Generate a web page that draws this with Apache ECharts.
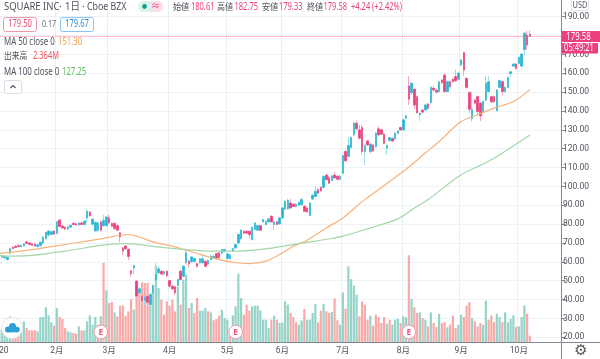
<!DOCTYPE html>
<html><head><meta charset="utf-8">
<style>html,body{margin:0;padding:0;background:#fff}#c{width:600px;height:359px}</style>
<script src="https://cdn.jsdelivr.net/npm/echarts@6/dist/echarts.min.js"></script>
</head><body><div id="c"></div>
<script>
// open, high, low, close per trading day
const ohlc = [
[62.5,63.6,62,63.2],[62.6,63.4,62,63.2],[62.2,63,61.4,62.8],[61.2,62.8,60.8,62.4],[64.6,67.3,64,67],
[67.6,68.4,66.5,67.1],[68.2,68.8,67.4,67.6],[68.6,69.2,67.8,68.1],[68,69.2,67.6,68.7],[68.5,69.8,68,69.5],
[70.6,71,69.6,69.8],[70,70.4,68.8,69.2],[69.6,70,68.4,68.8],[69.3,69.8,68,68.5],[68.2,69.5,67.8,69],
[68.6,70.8,68,70.4],[70,73.6,69.2,73],[72.4,76,71.5,75.6],[74.2,77,73.5,76.3],[74.6,76.8,74,76],
[76.3,76.8,74.2,74.8],[75,81.6,74.7,81.2],[82.2,82.8,78.4,78.8],[79,79.6,77.4,78],[78.4,78.8,77,77.4],
[77.4,79.4,77,78.4],[78.4,79.6,78,79.4],[80.4,81,79.4,79.8],[80.2,80.6,79.2,79.6],[79.6,81,79.2,80.6],
[80.6,81.4,79.4,79.8],[79.8,82,79.2,81.6],[83.3,87.7,80.6,86.8],[86.4,87,84,84.4],[80,83,79,82.6],
[76.4,81.4,76,81],[76.8,81.2,75.8,80.6],[81,82,76,76.8],[79.2,85,78.6,82],[79.2,84.2,78.8,83.8],
[83.3,85,80.2,80.7],[80.3,80.8,78.4,78.9],[80.4,81,77,77.6],[79.2,79.8,76.4,76.8],[75.4,75.8,70.4,73.2],
[67.4,67.9,63.6,65.7],[68.4,68.8,66,67],[66.7,67,60.9,62.9],[55.2,55.8,52,53.8],[56.8,58.6,53.3,58],
[49.8,50.4,41,41.9],[43.6,46.6,42.5,45.7],[41.8,42.5,33,39.2],[39.5,42,37,41.4],[41.8,43,37.5,38.6],
[37.4,43.5,36,42.7],[43.6,48,42.8,47.4],[50.3,59.5,49.5,53.5],[54.2,58,53.5,56.3],[55,55.4,52.8,53.6],
[53.8,55.4,52.6,54.8],[55,55.4,51.8,52.8],[50.1,50.6,46.4,47.1],[47.1,47.6,45.2,45.7],[46.8,47.2,42.5,43.6],
[47.5,51,47,50.6],[55,56,50.2,50.6],[52.4,58,51.8,57.7],[59.5,67,58.8,64.8],[60.3,61,56.8,58.9],
[60,62.8,59.4,62.6],[60.3,62.2,59.8,61.8],[59,59.6,56.8,57.7],[59.5,62,59,61.6],[59.5,64,59,61.6],
[60.3,60.8,57,57.7],[58.8,61.4,58.2,60.6],[61.2,64,60.8,63],[62,63.8,61.4,62.8],[64.4,64.8,61.6,62],
[64.8,65.2,61.2,62.2],[64.6,66.8,64,66.5],[65.4,67,65,66.5],[61.8,64.6,61.2,64.2],[61.6,64.6,61.2,63.6],
[65.6,67.4,65.2,67],[67.4,69.8,66.8,69.2],[70,75,69.6,74.5],[72.3,77.2,71.8,76.8],[76.2,76.6,74.8,75.3],
[76.2,76.8,75,75.2],[76.2,76.6,72.4,74.5],[71.8,78.6,71.4,78.3],[77.1,81,76.6,80.6],[76.8,79.6,76.4,79.2],
[79.2,79.6,76.4,76.8],[81.2,82.8,80.8,82.4],[79.8,81.8,79.2,81.5],[81.2,83,80.8,82.8],[84.2,84.6,80.8,81.2],
[79.8,81.6,76.8,81.2],[81.2,81.6,79.4,79.8],[80.1,83.6,79.6,83.3],[83.3,89,82.6,88.6],[88,92.5,87.4,92.1],
[88,93.4,87.5,92.6],[91.2,93.4,88.2,88.6],[90.6,91.2,89,89.4],[89.4,91,88.8,90.6],[90,92,89.6,91.6],
[90.3,94,89.8,93],[89.5,90,86.4,86.8],[88.6,89.2,86,86.4],[84.7,91.6,84,91.2],[93.3,95.8,92.8,95.3],
[94.7,100,94.2,97.4],[98.3,99,96,96.5],[99.5,100,97.2,97.7],[99.5,105.8,99,105.3],[106,106.6,103,103.6],
[104.6,105.6,101.2,101.7],[103.2,106,102.8,105.6],[106,107.8,104,104.5],[105.4,106,103.2,103.8],[103.8,105.8,103.2,105.4],
[107,116.8,106.6,116.4],[118.5,119.2,113,113.6],[115.9,126,115.4,121.7],[120.6,126.4,120,125.9],[127.3,134,126.8,133.5],
[133.5,134.8,130,130.5],[130,132.6,125,125.6],[131.2,132.8,116.8,118.5],[118.5,122.2,111.4,121.7],[124.1,124.6,121.4,122],
[118.5,123,117.4,122.4],[122,122.6,118.2,118.9],[121.1,128.6,120.6,128.2],[130.5,132,127,127.3],[130,130.8,127.2,127.7],
[127.7,128.2,122.4,122.9],[120.3,122.2,116.8,121.7],[124.4,126,123.8,125.9],[125.4,126,123.6,124.1],[125.2,128.6,124.8,128.2],
[128.2,129.6,127.8,129.4],[131.2,131.8,129.4,130],[130,135.8,129.6,135.3],[136.1,137.8,135.6,137.4],[153.3,158.5,143.2,146.2],
[149.7,155.2,148.5,154.7],[151.5,152,141,143.2],[147.6,148.2,138.6,139.1],[137.9,139.4,134.8,138.8],[140.4,141,138.4,139.4],
[140.5,143.8,140,143.2],[143.7,144.2,140.8,141.4],[144.4,153,143.8,152.5],[152,153.4,150.4,151.1],[151,151.6,149.2,150],
[150.3,156,149.6,155.5],[156.4,157,154.4,155],[159,160,149.6,150.3],[150.3,156.2,149.8,155.5],[155.5,156.2,152.2,152.9],
[156.8,157.4,155,155.5],[158.2,161.8,155.4,156],[156.8,160.6,156.2,160],[164.4,167.6,163.6,167],[170.9,171.4,158.5,161.7],
[157.3,157.8,151.8,152.5],[149.7,150.4,138.8,140.9],[136.1,150.3,134.4,140.9],[145.8,146.4,143.4,144.1],[147.6,148.2,137.6,139.7],
[144.1,144.8,134.6,137.4],[139.7,145.6,139.2,145],[145.8,158.5,145.2,154.7],[150.3,158.5,149.6,155.5],[147.6,148.2,144.2,144.9],
[147.6,148.2,144.2,144.9],[140.2,151.6,139.6,151.1],[152.5,156.6,152,156.1],[155.5,156,148.5,150.3],[150.3,153,149.6,152.5],
[152.5,158.4,152,157.8],[159.9,161.2,158,160.8],[163.8,165.4,163.2,164.9],[164.9,165.4,161.8,162.6],[165.2,168.8,164.6,168.4],
[163.8,170.8,163.2,170.2],[172.5,181.8,169.5,181.2],[180.2,182.6,172.5,175],[180.61,182.75,179.33,179.58]
];
// volume, in chart units of about 0.124M shares
const volumes = [
37,37,32,32,77,47,42,42,47,62, 42,35,35,35,32,75,75,104,80,59,
49,102,75,69,42,32,29,27,25,47, 35,35,62,80,52,75,52,77,237,155,
117,120,89,77,109,109,79,92,129,97, 182,157,179,177,177,142,147,229,162,127,
82,122,109,127,92,165,112,187,202,102, 117,87,132,94,94,102,92,89,65,69,
79,97,72,67,32,80,107,205,132,82, 112,94,107,109,109,94,67,67,42,67,
79,67,57,59,122,112,87,75,59,52, 65,99,67,67,87,114,59,94,114,92,
87,90,131,65,52,149,100,227,189,169, 142,77,122,112,67,79,49,82,75,57,
75,55,67,52,67,69,57,77,74,260, 129,104,87,89,72,67,47,89,57,45,
84,57,60,44,52,79,42,52,82,75, 109,120,72,62,47,57,52,124,67,80,
60,85,75,60,89,59,69,80,45,47, 75,110,85,19
];
// per volume bar: u = rising-day colour, d = falling-day colour, ten days a row
const volumeDirs = [
"uuuuuddduu","dddduuuuuu","duddduuddu","duuuuududu","dduddddddu",
"ddddduuuud","ddddduduud","udduuududd","duuuduuuud","dduuuuuuud",
"uduuuudddu","uduuuuddud","dudduuduuu","uddddudddd","duduuuduud",
"uddudududd","uddudddu"+"ud","ddudddu"+"udd","duuduuuudu","uudd"
];
const categories = ohlc.map((_, i) => "d" + i).concat(Array.from({length: 11}, (_, i) => "e" + i));
const monthLabels = {0: "2020", 21: "2月", 40: "3月", 62: "4月", 83: "5月", 103: "6月", 125: "7月", 147: "8月", 168: "9月", 189: "10月"};
const earningsDays = [37, 86, 149];
// Moving averages: readings at the listed trading days, joined by the line
const ma50Days = [0,12,24,37,44,47,51,56,63,68,73,79,85,91,97,102,107,112,119,125,130,133,147,155,160,168,174,180,187,193];
const ma50 = [64.4,66.5,69.2,72.2,74.1,74.5,73.2,70.6,68.3,66.2,64,61.6,59.8,59.1,60.4,63.9,68.3,71.5,78,83.3,89.5,93,108,117.7,123.8,134.4,138,141.5,145,151.3];
const ma100Days = [0,6,12,24,37,44,49,55,63,73,79,87,97,109,121,125,133,145,151,156,168,178,193];
const ma100 = [63.3,63,63.4,65.7,68.7,69.7,69.5,68.3,67.1,66,65.7,65.7,66.9,69.7,72.4,73.6,77.1,82.8,88.6,93,106.2,113.3,127.3];
const lastPrice = 179.58;

const TEAL = "#26b7d2", PINK = "#ec3f7f", TEAL_W = "#9fdce8", PINK_W = "#f6a5c0";
const VOL_UP = "#96d3c8", VOL_DN = "#f9aaa8";
const INK = "#50535e", FONT = '"Noto Sans","Noto Sans CJK JP",sans-serif';
const AXIS_FONT = 'Roboto,"Noto Sans CJK JP",sans-serif';
const GRID = "#edf2f7";
const dirStr = volumeDirs.join("");

// text squeezed horizontally to the reference's narrow glyphs
const txt = (x, y, text, fill, size, sx, align) => ({type: "text", silent: true, z: 20, x, y, scaleX: sx || 0.78,
  style: {x: 0, y: 0, text, fill, font: (size || 10) + "px " + FONT, textAlign: align || "left", textVerticalAlign: "middle"}});
const earningsMark = x => [
  {type: "circle", z: 18, silent: true, shape: {cx: x, cy: 332, r: 6.8}, style: {fill: "#fff", stroke: "#f59ab0", lineWidth: 1}},
  {type: "text", z: 20, silent: true, style: {x, y: 332.5, text: "E", fill: "#f0567f", font: "bold 8.5px " + FONT, textAlign: "center", textVerticalAlign: "middle"}}
];
const box = (x, y, w, h, stroke, r) => ({type: "rect", z: 19, silent: true, shape: {x, y, width: w, height: h, r: r || 2}, style: {fill: "#fff", stroke, lineWidth: 1}});

const graphics = [
  {type: "line", z: 5, silent: true, shape: {x1: 561.5, y1: 337, x2: 561.5, y2: 359}, style: {stroke: "#84878f", lineWidth: 1}},
  {type: "line", z: 5, silent: true, shape: {x1: 561, y1: 342.5, x2: 600, y2: 342.5}, style: {stroke: "#84878f", lineWidth: 1}},
  // header row
  txt(4, 7, "SQUARE INC", INK, 11, 0.86),
  txt(65, 7, "1日", INK, 11, 0.86),
  txt(87, 7, "Cboe BZX", INK, 11, 0.8),
  txt(59, 7, "·", INK, 10, 1), txt(82, 7, "·", INK, 10, 1),
  {type: "rect", z: 19, silent: true, shape: {x: 138, y: 1, width: 13, height: 11, r: [5.5,0,0,5.5]}, style: {fill: "#dff3ee"}},
  {type: "rect", z: 19, silent: true, shape: {x: 151, y: 1, width: 12, height: 11, r: [0,5.5,5.5,0]}, style: {fill: "#fbdde6"}},
  {type: "circle", z: 20, silent: true, shape: {cx: 144.5, cy: 6.5, r: 2.4}, style: {fill: "#149c8b"}},
  txt(155.5, 6.5, "≈", "#ec3f7f", 9, 1, "center"),
  txt(173, 7, "始値", INK, 9, 0.9), txt(191, 7, "180.61", PINK, 10, 0.75),
  txt(217, 7, "高値", INK, 9, 0.9), txt(234.5, 7, "182.75", PINK, 10, 0.75),
  txt(262, 7, "安値", INK, 9, 0.9), txt(279, 7, "179.33", PINK, 10, 0.75),
  txt(307, 7, "終値", INK, 9, 0.9), txt(323.5, 7, "179.58", PINK, 10, 0.75),
  txt(351, 7, "+4.24 (+2.42%)", PINK, 10, 0.75),
  // bid / ask row
  box(3.5, 17.5, 33, 14, "#f09aa8"), txt(20, 24.5, "179.50", "#e64a6e", 10, 0.75, "center"),
  txt(42, 24.5, "0.17", "#666a73", 9.5, 0.75),
  box(60.5, 17.5, 33, 14, "#8cc4f0"), txt(77, 24.5, "179.67", "#2c8bd8", 10, 0.75, "center"),
  // indicators
  txt(4, 42, "MA 50 close 0", INK, 10, 0.79), txt(58, 42, "151.30", "#f5a04c", 10, 0.77),
  txt(4, 56.5, "出来高", INK, 9, 0.86), txt(33, 56.5, "2.364M", "#f0565c", 10, 0.75),
  txt(4, 72, "MA 100 close 0", INK, 10, 0.79), txt(62, 72, "127.25", "#66bb6a", 10, 0.77),
  box(4.5, 80.5, 17, 13, "#d9dce3"),
  {type: "polyline", z: 20, silent: true, shape: {points: [[10.5, 88], [13, 85.5], [15.5, 88]]}, style: {stroke: INK, fill: null, lineWidth: 1.2}},
  // right scale decorations
  box(571.5, -1, 17, 11.5, "#e0e3eb"), txt(580, 5, "USD", INK, 9, 0.82, "center"),
  {type: "rect", z: 19, silent: true, shape: {x: 562, y: 31, width: 38, height: 11}, style: {fill: PINK}},
  txt(578.5, 36.7, "179.58", "#fff", 10, 0.78, "center"),
  {type: "rect", z: 19, silent: true, shape: {x: 562, y: 43, width: 36, height: 10.5}, style: {fill: PINK}},
  txt(579, 48.5, "05:49:21", "#fff", 10, 0.75, "center"),
  {type: "text", z: 20, silent: true, style: {x: 581, y: 351.5, text: "⚙", fill: "#55585f", font: '15px "DejaVu Sans"', textAlign: "center", textVerticalAlign: "middle"}},
  // logo
  {type: "circle", z: 18, silent: true, shape: {cx: 12, cy: 328, r: 10.5}, style: {fill: "#fff", stroke: "#e6e8ee", lineWidth: 1}},
  {type: "circle", z: 19, silent: true, shape: {cx: 8, cy: 329.5, r: 3}, style: {fill: "#2f9fd8"}},
  {type: "circle", z: 19, silent: true, shape: {cx: 12.5, cy: 326.5, r: 3.6}, style: {fill: "#2f9fd8"}},
  {type: "circle", z: 19, silent: true, shape: {cx: 17, cy: 329.5, r: 2.8}, style: {fill: "#2f9fd8"}},
  {type: "rect", z: 19, silent: true, shape: {x: 7, y: 329.5, width: 11, height: 2.8}, style: {fill: "#2f9fd8"}}
].concat(...earningsDays.map(i => earningsMark(-0.9 + 2.75 * i)));

const chart = echarts.init(document.getElementById("c"), null, {renderer: "canvas"});
chart.setOption({
  animation: false,
  backgroundColor: "#fff",
  grid: [
    {left: -2.3, width: 563.8, top: -2.2, height: 339.5, outerBoundsMode: "none", containLabel: false},
    {left: -2.3, width: 563.8, top: 0, height: 342, outerBoundsMode: "none", containLabel: false}
  ],
  xAxis: [
    {type: "category", gridIndex: 0, data: categories, boundaryGap: true, axisLine: {show: false}, axisTick: {show: false}, axisLabel: {show: false}, splitLine: {show: false}},
    {type: "category", gridIndex: 1, data: categories, boundaryGap: true,
      axisLine: {lineStyle: {color: "#84878f", width: 1}}, axisTick: {show: false},
      axisLabel: {interval: i => monthLabels[i] !== undefined, formatter: (v, i) => monthLabels[i] || "", color: INK, fontSize: 8.5, fontFamily: AXIS_FONT, margin: 5},
      splitLine: {show: true, interval: i => monthLabels[i] !== undefined && i > 0, lineStyle: {color: "#e8f0f5", width: 1}}}
  ],
  yAxis: [
    {type: "value", gridIndex: 0, position: "right", min: 20, max: 200, interval: 10,
      axisLine: {show: true, lineStyle: {color: "#84878f", width: 1}},
      axisTick: {show: true, length: 4, lineStyle: {color: "#84878f"}},
      axisLabel: {formatter: v => v.toFixed(2), color: INK, fontSize: 8.5, fontFamily: AXIS_FONT, margin: 1.5, hideOverlap: false, showMinLabel: true, showMaxLabel: true},
      splitLine: {show: true, lineStyle: {color: GRID, width: 1}}},
    {type: "value", gridIndex: 1, min: 0, max: 1026, show: false}
  ],
  series: [
    {type: "bar", name: "出来高", xAxisIndex: 1, yAxisIndex: 1, z: 2, barWidth: 2.2, silent: true,
      data: volumes.map((v, i) => ({value: v, itemStyle: {color: dirStr[i] === "u" ? VOL_UP : VOL_DN}}))},
    {type: "candlestick", name: "wicks", xAxisIndex: 0, yAxisIndex: 0, z: 3, barWidth: 2, silent: true,
      itemStyle: {color: TEAL_W, color0: PINK_W, borderColor: TEAL_W, borderColor0: PINK_W, borderWidth: 1},
      data: ohlc.map(d => [d[0], d[3], d[2], d[1]]),
      markLine: {silent: true, symbol: "none", label: {show: false}, z: 3,
        lineStyle: {color: "#ec3f7f", type: "dotted", width: 1, opacity: 0.6},
        data: [{yAxis: lastPrice}]}},
    {type: "candlestick", name: "bodies", xAxisIndex: 0, yAxisIndex: 0, z: 4, barWidth: 2, silent: true,
      itemStyle: {color: TEAL, color0: PINK, borderColor: TEAL, borderColor0: PINK, borderWidth: 0.5},
      data: ohlc.map(d => [d[0], d[3], Math.min(d[0], d[3]), Math.max(d[0], d[3])])},
    {type: "line", name: "MA 50", xAxisIndex: 0, yAxisIndex: 0, z: 5, silent: true, smooth: 0.35, showSymbol: false,
      lineStyle: {color: "#f8b27a", width: 1.2}, data: ma50Days.map((d, i) => [d, ma50[i]])},
    {type: "line", name: "MA 100", xAxisIndex: 0, yAxisIndex: 0, z: 5, silent: true, smooth: 0.35, showSymbol: false,
      lineStyle: {color: "#a5d6a7", width: 1.2}, data: ma100Days.map((d, i) => [d, ma100[i]])}
  ],
  graphic: graphics
});
</script></body></html>
